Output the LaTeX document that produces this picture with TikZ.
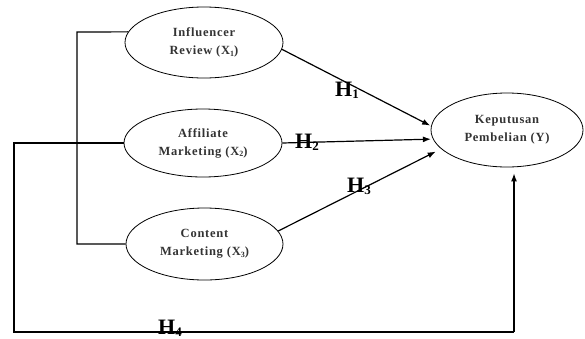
\documentclass[tikz,border=0pt]{standalone}
\usepackage{fontspec}
\setmainfont{Liberation Serif}
\newfontfamily\lblfont[LetterSpace=6]{Liberation Serif}
\usetikzlibrary{arrows.meta,shapes.geometric}
\newcommand{\sbx}[1]{\raisebox{-1.5pt}{\fontsize{8}{8}\selectfont #1}}
\newcommand{\shx}[1]{\raisebox{-2.5pt}{\fontsize{13}{13}\selectfont #1}}
\begin{document}
\begin{tikzpicture}[x=1pt,y=1pt,
  var/.style={ellipse, draw, line width=0.8pt, inner sep=0pt, align=center,
    font=\lblfont\bfseries\fontsize{12.5}{18}\selectfont, text=black!80},
  lnk/.style={line width=1.2pt},
  arr/.style={line width=1.2pt, -{Latex[length=8pt,width=6pt]}},
  hyp/.style={anchor=base west, inner sep=0pt, font=\bfseries\fontsize{22}{22}\selectfont}]
\useasboundingbox (0,0) rectangle (585,-338);
\node[var, minimum width=158pt, minimum height=71pt] (X1) at (204,-42.5) {Influencer\\Review (X\sbx{1})};
\node[var, minimum width=158pt, minimum height=68pt] (X2) at (203,-143) {Affiliate\\Marketing (X\sbx{2})};
\node[var, minimum width=157pt, minimum height=72pt] (X3) at (204.5,-244) {Content\\Marketing (X\sbx{3})};
\node[var, minimum width=152pt, minimum height=74pt] (Y) at (507,-130) {Keputusan\\Pembelian (Y)};
\coordinate (bt) at (77,-32);
\coordinate (bb) at (77,-244);
\coordinate (o1) at (14,-143);
\coordinate (o2) at (14,-332);
\coordinate (o3) at (514,-332);
\draw[lnk] (X1.172) -- (bt) -- (bb) -- (X3.west);
\draw[lnk] (X2.west) -- (o1) -- (o2) -- (o3);
\draw[arr, shorten >=6pt] (o3) -- (o3 |- Y.south);
\draw[arr, shorten >=1pt] (X1.-5) -- (Y.177);
\draw[arr, shorten >=2pt] (X2.east) -- (Y.187);
\draw[arr, shorten >=6pt] (X3.10) -- (Y.196);
\node[hyp] (H1) at (335,-96) {H\shx{1}};
\node[hyp] (H2) at (295,-148) {H\shx{2}};
\node[hyp] (H3) at (347,-192) {H\shx{3}};
\node[hyp] (H4) at (158,-334) {H\shx{4}};
\end{tikzpicture}
\end{document}
